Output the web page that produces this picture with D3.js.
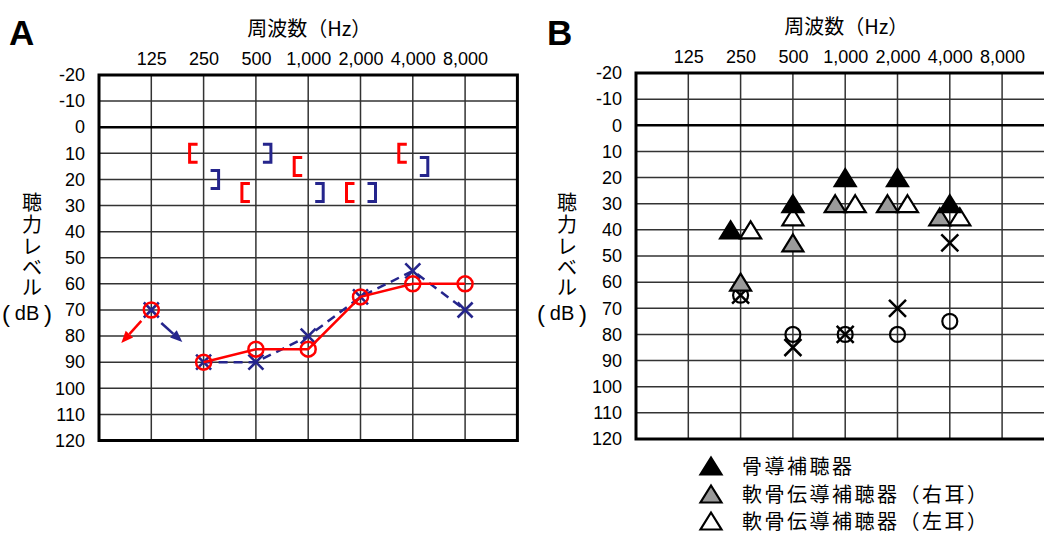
<!DOCTYPE html>
<html>
<head>
<meta charset="utf-8">
<script src="https://cdn.jsdelivr.net/npm/d3@7"></script>
<style>
  html, body { margin: 0; padding: 0; background: #fff; }
  svg { display: block; }
  text { font-family: "Liberation Sans", Arial, "Noto Sans CJK JP", sans-serif; }
  .jp { font-family: "Noto Sans CJK JP", "Liberation Sans", sans-serif; }
  .lat { font-family: "Liberation Sans", Arial, sans-serif; }
</style>
</head>
<body>
<svg id="chart" width="1044" height="534"></svg>
<script>
// Frequency axis (Hz) and hearing-level axis (dB)
const freqs = [125, 250, 500, 1000, 2000, 4000, 8000];
const freqLabels = ["125", "250", "500", "1,000", "2,000", "4,000", "8,000"];
const dbTicks = [-20, -10, 0, 10, 20, 30, 40, 50, 60, 70, 80, 90, 100, 110, 120];

// Panel A: air conduction thresholds
const rightAir = [70, 90, 85, 85, 65, 60, 60];   // ○ right ear
const leftAir  = [70, 90, 90, 80, 65, 55, 70];   // × left ear
const scaleOutFreqs = [125];                     // no response at maximum output

// Panel A: masked bone conduction thresholds
const boneFreqs = [250, 500, 1000, 2000, 4000];
const rightBone = [10, 25, 15, 25, 10];          // [ right ear
const leftBone  = [20, 10, 25, 25, 15];          // ] left ear

// Panel B: aided thresholds
const aidFreqs = [250, 500, 1000, 2000, 4000];
const boneAided  = [40, 30, 20, 20, 30];         // ▲ bone conduction hearing aid
const cartRight  = [60, 45, 30, 30, 35];         // gray △ cartilage conduction (right)
const cartLeft   = [40, 35, 30, 30, 35];         // white △ cartilage conduction (left)
const airO       = [65, 80, 80, 80, 75];         // ○
const airX       = [65, 85, 80, 70, 45];         // ×

const legendLabels = ["骨導補聴器", "軟骨伝導補聴器（右耳）", "軟骨伝導補聴器（左耳）"];
const legendFills = ["#000", "#9a9a9a", "#fff"];

const RED = "#ff0000";
const NAVY = "#25258c";

const svg = d3.select("#chart");

function panel(opts) {
  const g = svg.append("g");
  const x = d3.scaleLog().base(2).domain([62.5, 16000]).range([opts.left, opts.left + 8 * 52.3]);
  const y = d3.scaleLinear().domain([-20, 120]).range([opts.top, opts.bottom]);

  // grid
  const grid = g.append("g");
  grid.selectAll(".v").data(freqs).join("line")
    .attr("x1", d => x(d)).attr("x2", d => x(d))
    .attr("y1", y(-20)).attr("y2", y(120))
    .attr("stroke", "#333").attr("stroke-width", 1.5);
  grid.selectAll(".h").data(dbTicks.filter(d => d > -20 && d < 120)).join("line")
    .attr("x1", x.range()[0]).attr("x2", x.range()[1])
    .attr("y1", d => y(d)).attr("y2", d => y(d))
    .attr("stroke", d => d === 0 ? "#000" : "#333")
    .attr("stroke-width", d => d === 0 ? 2.6 : 1.5);
  grid.append("rect")
    .attr("x", x.range()[0]).attr("y", y(-20))
    .attr("width", x.range()[1] - x.range()[0]).attr("height", y(120) - y(-20))
    .attr("fill", "none").attr("stroke", "#000").attr("stroke-width", 3);

  // axes
  const ax = g.append("g").attr("transform", `translate(0,${y(-20)})`)
    .call(d3.axisTop(x).tickValues(freqs).tickSize(0).tickPadding(10)
      .tickFormat((d, i) => freqLabels[i]));
  ax.select(".domain").remove();
  ax.selectAll("text").attr("font-size", 18).attr("fill", "#000")
    .attr("font-family", "Liberation Sans, Arial, sans-serif");

  const ay = g.append("g").attr("transform", `translate(${x.range()[0]},0)`)
    .call(d3.axisLeft(y).tickValues(dbTicks).tickSize(0).tickPadding(14)
      .tickFormat(d => String(d)));
  ay.select(".domain").remove();
  ay.selectAll("text").attr("font-size", 18).attr("fill", "#000")
    .attr("font-family", "Liberation Sans, Arial, sans-serif");

  // titles
  g.append("text").attr("x", opts.letterX).attr("y", 45)
    .attr("font-size", 35).attr("font-weight", "bold").text(opts.letter);
  g.append("text").attr("class", "jp")
    .attr("x", x(1000) + 1).attr("y", opts.titleY)
    .attr("text-anchor", "middle").attr("font-size", 20).text("周波数（Hz）");

  const yt = g.append("g").attr("class", "jp").attr("font-size", 20).attr("text-anchor", "middle");
  const chars = ["聴", "力", "レ", "ベ", "ル"];
  const cy = [203, 225, 247, 268, 288];
  chars.forEach((c, i) => {
    yt.append("text").attr("x", opts.ytX).attr("y", cy[i])
      .attr("dominant-baseline", "central").text(c);
  });
  const dbX = opts.ytX - 5;
  yt.append("text").attr("class", "lat").attr("font-size", 24)
    .attr("x", dbX - 25).attr("y", 313).attr("text-anchor", "start")
    .attr("dominant-baseline", "central").text("(");
  yt.append("text").attr("class", "lat")
    .attr("x", dbX).attr("y", 313)
    .attr("dominant-baseline", "central").text("dB");
  yt.append("text").attr("class", "lat").attr("font-size", 24)
    .attr("x", dbX + 25).attr("y", 313).attr("text-anchor", "end")
    .attr("dominant-baseline", "central").text(")");

  return { g, x, y };
}

// ---------- Panel A ----------
const A = panel({ left: 99, top: 75, bottom: 440.5, letter: "A", letterX: 9, titleY: 36, ytX: 32 });

function xMark(sel, cx, cy, r, color, w) {
  sel.append("path")
    .attr("d", `M${cx - r},${cy - r}L${cx + r},${cy + r}M${cx - r},${cy + r}L${cx + r},${cy - r}`)
    .attr("stroke", color).attr("stroke-width", w).attr("fill", "none");
}

// masked bone conduction brackets
boneFreqs.forEach((f, i) => {
  const gx = A.x(f);
  const yr = A.y(rightBone[i]);
  A.g.append("path")
    .attr("d", `M${gx - 6},${yr - 9}H${gx - 14}V${yr + 9}H${gx - 6}`)
    .attr("fill", "none").attr("stroke", RED).attr("stroke-width", 3);
  const yl = A.y(leftBone[i]);
  A.g.append("path")
    .attr("d", `M${gx + 7},${yl - 9}H${gx + 15}V${yl + 9}H${gx + 7}`)
    .attr("fill", "none").attr("stroke", NAVY).attr("stroke-width", 3);
});

// left ear air conduction (dashed)
const connected = (vals) => freqs.map((f, i) => [f, vals[i]]).filter(d => !scaleOutFreqs.includes(d[0]));
const line = d3.line().x(d => A.x(d[0])).y(d => A.y(d[1]));

A.g.append("path").datum(connected(leftAir)).attr("d", line)
  .attr("fill", "none").attr("stroke", NAVY).attr("stroke-width", 2.5)
  .attr("stroke-dasharray", "9,6");
freqs.forEach((f, i) => xMark(A.g, A.x(f), A.y(leftAir[i]), 7.5, NAVY, 2.6));

// right ear air conduction (solid)
A.g.append("path").datum(connected(rightAir)).attr("d", line)
  .attr("fill", "none").attr("stroke", RED).attr("stroke-width", 2.5);
A.g.selectAll(".ro").data(freqs).join("circle")
  .attr("cx", d => A.x(d)).attr("cy", (d, i) => A.y(rightAir[i]))
  .attr("r", 7.5).attr("fill", "none").attr("stroke", RED).attr("stroke-width", 2.5);

// scale-out arrows
function arrow(x1, y1, x2, y2, color) {
  const ang = Math.atan2(y2 - y1, x2 - x1);
  const len = 12, half = 5;
  const bx = x2 - len * Math.cos(ang), by = y2 - len * Math.sin(ang);
  A.g.append("line").attr("x1", x1).attr("y1", y1).attr("x2", bx).attr("y2", by)
    .attr("stroke", color).attr("stroke-width", 2.5);
  const px = -Math.sin(ang) * half, py = Math.cos(ang) * half;
  A.g.append("path")
    .attr("d", `M${x2},${y2}L${bx + px},${by + py}L${bx - px},${by - py}Z`)
    .attr("fill", color);
}
scaleOutFreqs.forEach(f => {
  const i = freqs.indexOf(f);
  const cx = A.x(f);
  arrow(cx - 10, A.y(rightAir[i]) + 11, cx - 30, A.y(rightAir[i]) + 33, RED);
  arrow(cx + 10, A.y(leftAir[i]) + 13, cx + 31, A.y(leftAir[i]) + 32, NAVY);
});

// ---------- Panel B ----------
const B = panel({ left: 636, top: 73, bottom: 439, letter: "B", letterX: 547, titleY: 34, ytX: 567 });

aidFreqs.forEach((f, i) => {
  xMark(B.g, B.x(f), B.y(airX[i]), 8.5, "#000", 2.5);
});
B.g.selectAll(".bo").data(aidFreqs).join("circle")
  .attr("cx", d => B.x(d)).attr("cy", (d, i) => B.y(airO[i]))
  .attr("r", 7.5).attr("fill", "none").attr("stroke", "#000").attr("stroke-width", 2.2);

function tri(sel, cx, cy, fill) {
  const w = 10.5, h = 8.5;
  sel.append("path")
    .attr("d", `M${cx},${cy - h}L${cx + w},${cy + h}L${cx - w},${cy + h}Z`)
    .attr("fill", fill).attr("stroke", "#000").attr("stroke-width", 2.2)
    .attr("stroke-linejoin", "miter");
}

// triangles sharing a value at the same frequency are drawn side by side
const triSeries = [
  { vals: boneAided, fill: legendFills[0] },
  { vals: cartRight, fill: legendFills[1] },
  { vals: cartLeft,  fill: legendFills[2] }
];
const drawOrder = [1, 2, 0];
aidFreqs.forEach((f, i) => {
  const offsets = triSeries.map(() => 0);
  triSeries.forEach((s, k) => {
    const same = triSeries.map((t, j) => j).filter(j => triSeries[j].vals[i] === s.vals[i]);
    if (same.length === 2) offsets[k] = same.indexOf(k) === 0 ? -10 : 10;
  });
  drawOrder.forEach(k => tri(B.g, B.x(f) + offsets[k], B.y(triSeries[k].vals[i]), triSeries[k].fill));
});

// legend
const leg = svg.append("g");
const legY = [465, 493, 520];
legendLabels.forEach((t, i) => {
  tri(leg, 711, legY[i] + 1, legendFills[i]);
  leg.append("text").attr("class", "jp")
    .attr("x", 742).attr("y", legY[i])
    .attr("dominant-baseline", "central")
    .attr("font-size", 20).attr("letter-spacing", 2.5).text(t);
});
</script>
</body>
</html>
